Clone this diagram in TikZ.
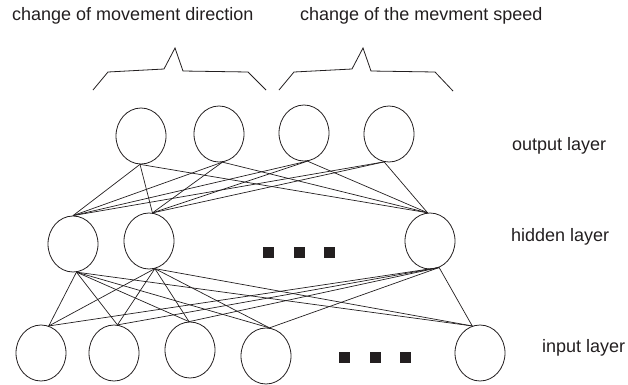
\documentclass[tikz,border=0pt]{standalone}
\usepackage{fontspec}
\setmainfont{Liberation Sans}
\usetikzlibrary{shapes.geometric}
\definecolor{ink}{HTML}{231F20}
\begin{document}
\begin{tikzpicture}[x=1pt,y=-1pt,
  neuron/.style={ellipse,draw=ink,line width=0.8pt,inner sep=0pt,minimum width=50pt,minimum height=56pt},
  dotbox/.style={rectangle,fill=ink,inner sep=0pt,minimum size=11pt},
  link/.style={draw=ink,line width=0.7pt},
  brace/.style={draw=ink,line width=0.8pt},
  lbl/.style={anchor=base west,inner sep=0pt,font=\fontsize{18}{18}\selectfont,text=ink}]
\useasboundingbox (0,0) rectangle (628,384);
% output layer
\node[neuron] (o1) at (141,136) {};
\node[neuron] (o2) at (219,134) {};
\node[neuron] (o3) at (304,133) {};
\node[neuron] (o4) at (389,134) {};
% hidden layer
\node[neuron] (h1) at (73,244) {};
\node[neuron] (h2) at (149,241) {};
\node[neuron] (h3) at (430,241) {};
% input layer
\node[neuron] (i1) at (41,353) {};
\node[neuron] (i2) at (114,353) {};
\node[neuron] (i3) at (190,350) {};
\node[neuron] (i4) at (266,356) {};
\node[neuron] (i5) at (480,353) {};
% dots
\node[dotbox] (d1) at (268.5,252.5) {};
\node[dotbox] (d2) at (299.5,252.5) {};
\node[dotbox] (d3) at (329.5,252.5) {};
\node[dotbox] (e1) at (344.5,357.5) {};
\node[dotbox] (e2) at (375.5,357.5) {};
\node[dotbox] (e3) at (405.5,357.5) {};
% output -> hidden
\foreach \o/\oa in {o1/268,o2/277,o3/277,o4/260}{
  \foreach \h/\ha in {h1/90,h2/83,h3/95}{
    \draw[link] (\o.\oa) -- (\h.\ha);
  }
}
% hidden -> input
\foreach \h/\ha in {h1/277,h2/282,h3/289}{
  \foreach \i/\ia in {i1/74,i2/83,i3/92,i4/83,i5/106}{
    \draw[link] (\h.\ha) -- (\i.\ia);
  }
}
% braces
\draw[brace] (93,90) -- (108,72) -- (164,69) -- (175,48) -- (183,71) -- (248,72) -- (266,90);
\draw[brace] (279,90) -- (294,72) -- (352,69) -- (363,48) -- (371,71) -- (435,72) -- (453,91);
% labels
\node[lbl] (t1) at (12,20) {change of movement direction};
\node[lbl] (t2) at (300,20) {change of the mevment speed};
\node[lbl] (t3) at (512,150) {output layer};
\node[lbl] (t4) at (511,241) {hidden layer};
\node[lbl] (t5) at (542,352) {input layer};
\end{tikzpicture}
\end{document}
